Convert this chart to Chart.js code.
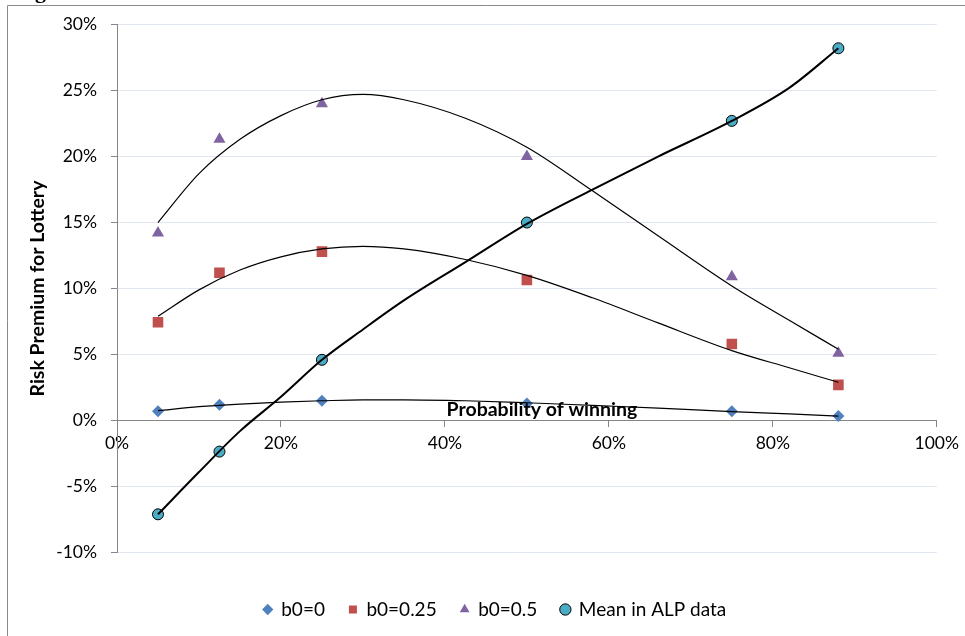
<!DOCTYPE html>
<html>
<head>
<meta charset="utf-8">
<script src="https://cdn.jsdelivr.net/npm/chart.js@4/dist/chart.umd.min.js"></script>
<style>
  html, body { margin: 0; padding: 0; background: #fff; }
  #wrap { width: 965px; height: 636px; position: relative; }
</style>
</head>
<body>
<div id="wrap"><canvas id="myChart" width="965" height="636"></canvas></div>
<script>
// marker data (x = probability of winning, in %)
const probs = [5, 12.5, 25, 50, 75, 88];
const b0_0 = [0.7, 1.2, 1.5, 1.3, 0.7, 0.35];
const b0_025 = [7.45, 11.2, 12.8, 10.65, 5.8, 2.7];
const b0_05 = [14.2, 21.3, 24.0, 20.0, 10.9, 5.1];
const alpMean = [-7.1, -2.35, 4.6, 15.0, 22.7, 28.2];

// trend lines
const trendX = [5, 10, 15, 20, 25, 30, 35, 42.5, 50, 58, 66, 75, 82, 88];
const trend_0 = [0.75, 1.05, 1.25, 1.4, 1.5, 1.57, 1.57, 1.5, 1.35, 1.15, 0.95, 0.68, 0.5, 0.33];
const trend_025 = [7.9, 9.9, 11.4, 12.4, 13.0, 13.2, 13.0, 12.2, 11.0, 9.3, 7.4, 5.3, 4.0, 2.9];
const trend_05 = [15.0, 18.7, 21.3, 23.1, 24.3, 24.7, 24.3, 22.9, 20.7, 17.4, 14.0, 10.2, 7.6, 5.4];
const trend_alp = [-7.1, -3.9, -0.8, 1.8, 4.6, 6.9, 9.1, 12.0, 14.9, 17.5, 20.0, 22.7, 25.2, 28.2];

const yTicks = [-10, -5, 0, 5, 10, 15, 20, 25, 30];
const xTicks = [0, 20, 40, 60, 80, 100];

const FONT = 'Lato, "Open Sans", sans-serif';

function pts(xs, ys){
  return xs.map(function(x, i){ return {x: x, y: ys[i]}; });
}

function markerSet(label, ys, style, color, radius, border){
  return {
    label: label,
    data: pts(probs, ys),
    showLine: false,
    pointStyle: style,
    pointRadius: radius,
    pointHoverRadius: radius,
    backgroundColor: color,
    borderColor: border || color,
    pointBorderWidth: border ? 1 : 0,
    order: 1
  };
}

function trendSet(ys, width){
  return {
    label: 'trend',
    data: pts(trendX, ys),
    showLine: true,
    pointRadius: 0,
    borderColor: '#000',
    borderWidth: width,
    cubicInterpolationMode: 'monotone',
    fill: false,
    order: 0
  };
}

// frame + cut-off heading + axis title drawn on canvas
const extras = {
  id: 'extras',
  afterLayout(chart){
    // legend sits a little right of centre in the original
    chart.legend.left += 16;
    chart.legend.right += 16;
  },
  beforeDraw(chart){
    const c = chart.ctx;
    c.save();
    c.fillStyle = '#fff';
    c.fillRect(0, 0, chart.width, chart.height);
    c.strokeStyle = '#8a8a8a';
    c.lineWidth = 1;
    c.beginPath();
    c.moveTo(7.5, chart.height);
    c.lineTo(7.5, 5.5);
    c.lineTo(chart.width, 5.5);
    c.stroke();
    c.fillStyle = '#000';
    c.font = 'bold 22px "Liberation Serif", serif';
    c.textBaseline = 'alphabetic';
    c.fillText('g', 35, -2);
    c.restore();
  },
  afterDraw(chart){
    const c = chart.ctx;
    const area = chart.chartArea;
    const zeroY = chart.scales.y.getPixelForValue(0);
    c.save();
    c.fillStyle = '#000';
    c.font = 'bold 19.5px ' + FONT;
    c.textAlign = 'center';
    c.textBaseline = 'middle';
    c.fillText('Probability of winning', (area.left + area.right) / 2 + 15, zeroY - 11);
    c.restore();
  }
};

const ctx = document.getElementById('myChart');

new Chart(ctx, {
  type: 'scatter',
  data: {
    datasets: [
      trendSet(trend_0, 1.2),
      trendSet(trend_025, 1.2),
      trendSet(trend_05, 1.2),
      trendSet(trend_alp, 2),
      markerSet('b0=0', b0_0, 'rectRot', '#4F81BD', 6),
      markerSet('b0=0.25', b0_025, 'rect', '#C0504D', 7.5),
      markerSet('b0=0.5', b0_05, 'triangle', '#8064A2', 7),
      markerSet('Mean in ALP data', alpMean, 'circle', '#4BACC6', 5.5, '#000')
    ]
  },
  options: {
    responsive: false,
    animation: false,
    layout: { padding: { left: 20, right: 27, top: 14, bottom: 7 } },
    plugins: {
      tooltip: { enabled: false },
      legend: {
        position: 'bottom',
        title: { display: true, text: '', padding: { top: 9, bottom: 0 } },
        labels: {
          usePointStyle: true,
          boxWidth: 8,
          boxHeight: 8,
          padding: 24,
          color: '#000',
          font: { family: FONT, size: 19 },
          filter: function(item){ return item.text !== 'trend'; }
        }
      }
    },
    scales: {
      x: {
        type: 'linear',
        position: { y: 0 },
        min: 0,
        max: 100,
        afterBuildTicks: function(axis){
          axis.ticks = xTicks.map(function(v){ return {value: v}; });
        },
        ticks: {
          color: '#000',
          padding: 6,
          maxRotation: 0,
          font: { family: FONT, size: 17.5 },
          callback: function(v){ return v + '%'; }
        },
        grid: { drawOnChartArea: false, drawTicks: true, tickLength: 6, color: '#868686' },
        border: { color: '#868686', width: 1 }
      },
      y: {
        min: -10,
        max: 30,
        afterBuildTicks: function(axis){
          axis.ticks = yTicks.map(function(v){ return {value: v}; });
        },
        afterFit: function(axis){ axis.width = 97; },
        ticks: {
          color: '#000',
          padding: 14,
          font: { family: FONT, size: 17.5 },
          callback: function(v){ return v + '%'; }
        },
        grid: { color: '#dfe6f0', tickColor: '#868686', tickLength: 6, lineWidth: 1 },
        border: { color: '#868686', width: 1 },
        title: {
          display: true,
          text: 'Risk Premium for Lottery',
          color: '#000',
          padding: { top: 6, bottom: 0 },
          font: { family: FONT, size: 19.5, weight: 'bold' }
        }
      }
    }
  },
  plugins: [extras]
});
</script>
</body>
</html>
